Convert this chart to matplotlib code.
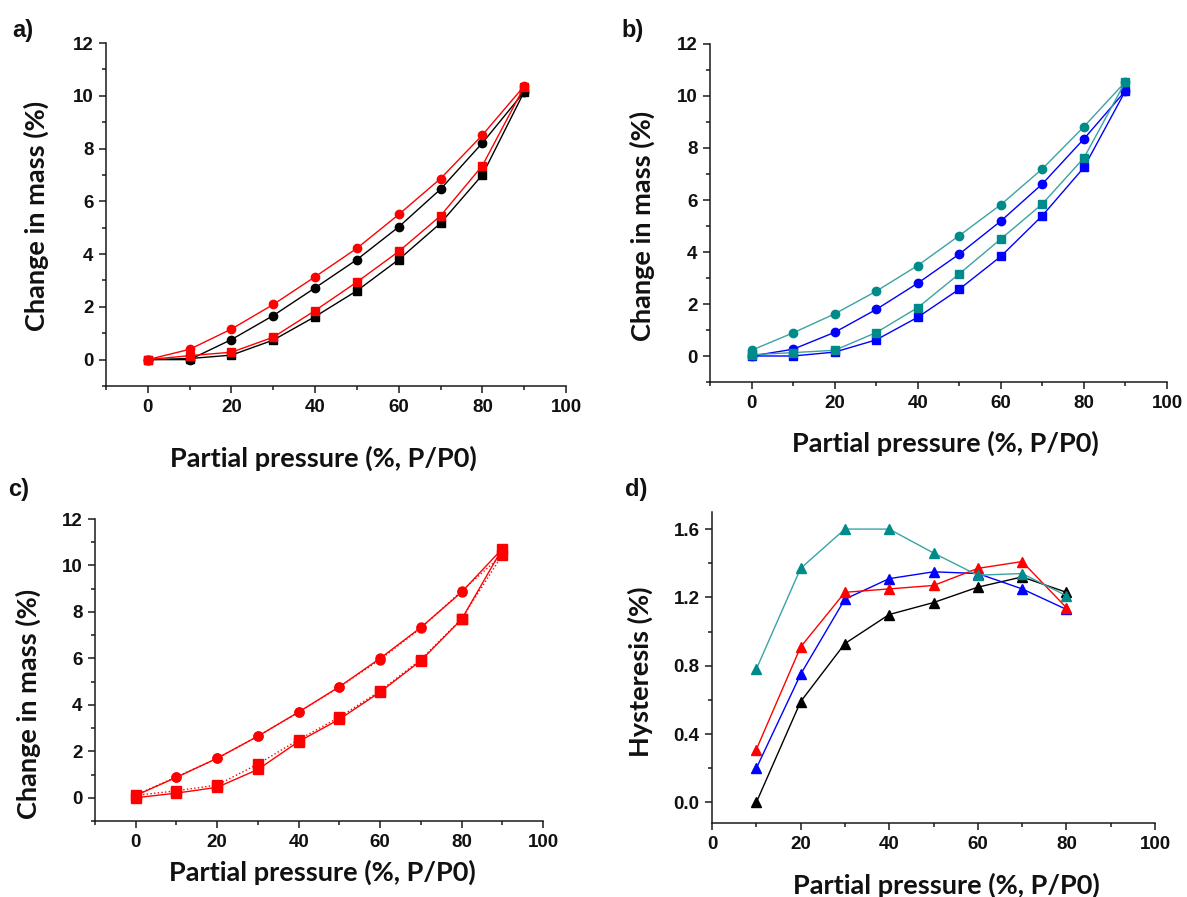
import matplotlib
matplotlib.use("Agg")
import matplotlib.pyplot as plt
from matplotlib.ticker import MultipleLocator, FormatStrFormatter

# ---- data -------------------------------------------------------------
pressure = [0, 10, 20, 30, 40, 50, 60, 70, 80, 90]

# a) sorption isotherms, two samples (black, red)
a_black_ads = [0.00, 0.04, 0.17, 0.74, 1.63, 2.61, 3.79, 5.17, 7.00, 10.15]
a_black_des = [0.00, 0.00, 0.76, 1.67, 2.72, 3.79, 5.03, 6.46, 8.21, 10.15]
a_red_ads = [0.00, 0.15, 0.28, 0.85, 1.86, 2.94, 4.10, 5.45, 7.35, 10.34]
a_red_des = [0.00, 0.39, 1.16, 2.09, 3.14, 4.22, 5.50, 6.86, 8.51, 10.37]

# b) sorption isotherms, two samples (blue, teal)
b_blue_ads = [0.00, 0.00, 0.15, 0.62, 1.49, 2.57, 3.83, 5.40, 7.25, 10.20]
b_blue_des = [0.00, 0.26, 0.91, 1.79, 2.80, 3.92, 5.19, 6.62, 8.35, 10.20]
b_teal_ads = [0.05, 0.13, 0.22, 0.90, 1.86, 3.16, 4.50, 5.85, 7.62, 10.55]
b_teal_des = [0.22, 0.89, 1.62, 2.49, 3.48, 4.63, 5.82, 7.20, 8.82, 10.55]

# c) repeated cycles of one sample (solid = cycle 1, dotted = cycle 2)
c_run1_ads = [0.00, 0.20, 0.45, 1.22, 2.42, 3.38, 4.55, 5.90, 7.68, 10.72]
c_run1_des = [0.10, 0.88, 1.70, 2.65, 3.69, 4.78, 6.00, 7.33, 8.85, 10.72]
c_run2_ads = [0.10, 0.30, 0.55, 1.45, 2.50, 3.47, 4.60, 5.95, 7.70, 10.45]
c_run2_des = [0.12, 0.90, 1.70, 2.65, 3.68, 4.77, 5.95, 7.30, 8.90, 10.45]

# d) hysteresis (desorption minus adsorption)
hyst_pressure = [10, 20, 30, 40, 50, 60, 70, 80]
hyst_black = [0.00, 0.59, 0.93, 1.10, 1.17, 1.26, 1.32, 1.23]
hyst_red = [0.31, 0.91, 1.23, 1.25, 1.27, 1.37, 1.41, 1.14]
hyst_blue = [0.20, 0.75, 1.19, 1.31, 1.35, 1.34, 1.25, 1.13]
hyst_teal = [0.78, 1.37, 1.60, 1.60, 1.46, 1.33, 1.34, 1.21]

x_label = "Partial pressure (%, P/P0)"
mass_label = "Change in mass (%)"
hyst_label = "Hysteresis (%)"

# ---- figure -----------------------------------------------------------
plt.rcParams["font.family"] = ["Liberation Sans", "DejaVu Sans"]
plt.rcParams["font.weight"] = "bold"
plt.rcParams["font.size"] = 13.5
plt.rcParams["text.color"] = "#111111"
plt.rcParams["xtick.color"] = "#1a1a1a"
plt.rcParams["ytick.color"] = "#1a1a1a"
plt.rcParams["xtick.labelcolor"] = "#111111"
plt.rcParams["ytick.labelcolor"] = "#111111"

W, H = 1187, 897
fig = plt.figure(figsize=(W / 100, H / 100), dpi=100)

RED = "#ff0000"
BLUE = "#0000ff"
TEAL = "#008b8b"
TEAL_LINE = "#3aa3a3"
BLACK = "#000000"

LABEL_FONT = dict(fontfamily="Lato", fontweight="bold", fontsize=19.5, color="#111111")


def axes_px(left, top, right, bottom):
    return fig.add_axes([left / W, 1 - bottom / H, (right - left) / W, (bottom - top) / H])


def style(ax):
    for side in ("top", "right"):
        ax.spines[side].set_visible(False)
    for side in ("left", "bottom"):
        ax.spines[side].set_linewidth(1.1)
        ax.spines[side].set_color("#1a1a1a")
    ax.tick_params(which="major", direction="out", length=5, width=1.1, pad=4,
                   labelsize=13.5)
    ax.tick_params(which="minor", direction="out", length=3, width=1.1)


def labels(ax, box, xlab, ylab, xl_px, yl_px):
    left, top, right, bottom = box
    ax.set_xlabel(xlab, **LABEL_FONT)
    ax.set_ylabel(ylab, **LABEL_FONT)
    ax.xaxis.set_label_coords((xl_px[0] - left) / (right - left),
                              (bottom - xl_px[1]) / (bottom - top))
    ax.yaxis.set_label_coords((yl_px[0] - left) / (right - left),
                              (bottom - yl_px[1]) / (bottom - top))
    ax.xaxis.label.set_va("center")
    ax.yaxis.label.set_va("center")


def mass_axes(ax):
    ax.set_xlim(-10, 100)
    ax.set_ylim(-1, 12)
    ax.xaxis.set_major_locator(MultipleLocator(20))
    ax.xaxis.set_minor_locator(MultipleLocator(10))
    ax.yaxis.set_major_locator(MultipleLocator(2))
    ax.yaxis.set_minor_locator(MultipleLocator(1))


line_kw = dict(linewidth=1.0, markersize=6)

# a)
box_a = (106, 43, 566, 386)
ax = axes_px(*box_a)
mass_axes(ax)
ax.plot(pressure, a_black_ads, "-s", color=BLACK, **line_kw)
ax.plot(pressure, a_black_des, "-o", color=BLACK, **line_kw)
ax.plot(pressure, a_red_ads, "-s", color=RED, **line_kw)
ax.plot(pressure, a_red_des, "-o", color=RED, **line_kw)
style(ax)
labels(ax, box_a, x_label, mass_label, (323, 458), (36, 216))

# b)
box_b = (710, 44, 1167, 382)
ax = axes_px(*box_b)
mass_axes(ax)
ax.plot(pressure, b_blue_ads, "-s", color=BLUE, **line_kw)
ax.plot(pressure, b_blue_des, "-o", color=BLUE, **line_kw)
ax.plot(pressure, b_teal_ads, "-s", color=TEAL_LINE, mfc=TEAL, mec=TEAL, **line_kw)
ax.plot(pressure, b_teal_des, "-o", color=TEAL_LINE, mfc=TEAL, mec=TEAL, **line_kw)
style(ax)
labels(ax, box_b, x_label, mass_label, (945, 443), (642, 226))

# c)
box_c = (95, 519, 543, 821)
ax = axes_px(*box_c)
mass_axes(ax)
ax.plot(pressure, c_run1_ads, "-s", color=RED, linewidth=1.0, markersize=6.5)
ax.plot(pressure, c_run1_des, "-o", color=RED, linewidth=1.0, markersize=6.5)
ax.plot(pressure, c_run2_ads, ":s", color=RED, linewidth=1.0, markersize=6.5)
ax.plot(pressure, c_run2_des, ":o", color=RED, linewidth=1.0, markersize=6.5)
style(ax)
labels(ax, box_c, x_label, mass_label, (322, 872), (28, 704))

# d)
box_d = (712, 512, 1155, 823)
ax = axes_px(*box_d)
ax.set_xlim(0, 100)
ax.set_ylim(-0.12, 1.7)
ax.xaxis.set_major_locator(MultipleLocator(20))
ax.xaxis.set_minor_locator(MultipleLocator(10))
ax.yaxis.set_major_locator(MultipleLocator(0.4))
ax.yaxis.set_minor_locator(MultipleLocator(0.2))
ax.yaxis.set_major_formatter(FormatStrFormatter("%.1f"))
tri_kw = dict(linewidth=1.0, markersize=7)
ax.plot(hyst_pressure, hyst_black, "-^", color=BLACK, **tri_kw)
ax.plot(hyst_pressure, hyst_blue, "-^", color=BLUE, **tri_kw)
ax.plot(hyst_pressure, hyst_red, "-^", color=RED, **tri_kw)
ax.plot(hyst_pressure, hyst_teal, "-^", color=TEAL_LINE, mfc=TEAL, mec=TEAL, **tri_kw)
style(ax)
labels(ax, box_d, x_label, hyst_label, (946, 885), (640, 672))

# panel letters
for letter, (px, py) in zip("abcd", [(12, 30), (621, 30), (8, 489), (625, 489)]):
    fig.text(px / W, 1 - py / H, letter + ")", fontsize=17, fontweight="bold",
             va="center", ha="left", color="#111111")

fig.savefig("out.png", dpi=100, facecolor="white")
